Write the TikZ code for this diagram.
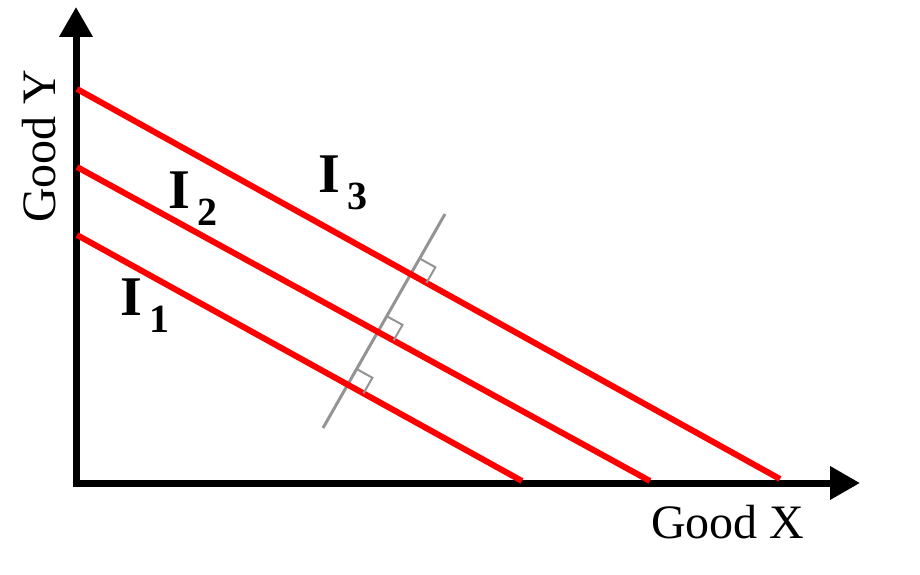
\documentclass[tikz,border=0pt]{standalone}
\usepackage{fontspec}
\setmainfont{Liberation Serif}
\usetikzlibrary{arrows.meta,intersections,calc}
\tikzset{axis/.style={black,line width=7pt,{Triangle[length=30pt,width=32pt]}-{Triangle[length=30pt,width=32pt]}},
  indiff/.style={red,line width=6pt},
  normal/.style={black!42,line width=3pt},
  rightmark/.style={black!42,line width=2pt},
  every node/.style={inner sep=0pt}}
\newcommand{\ilabel}[1]{{\fontsize{56}{60}\selectfont\bfseries I}\hspace{8pt}\raisebox{-17pt}{\fontsize{40}{44}\selectfont\bfseries #1}}

\begin{document}
\begin{tikzpicture}[x=1pt,y=-1pt]
   \useasboundingbox (0,0) rectangle (920,575);
   % axes
   \draw[axis] (76,7) -- (76,483) -- (860,483);
   \node[anchor=base west,rotate=90,font=\fontsize{48}{52}\selectfont] (ylab) at (55,223) {Good Y};
   \node[anchor=base west,font=\fontsize{48}{52}\selectfont] (xlab) at (651,538) {Good X};
   % normal line
   \coordinate (gbot) at (323,428);
   \coordinate (gtop) at (445,214);
   \draw[normal,name path=gline] (gbot) -- (gtop);
   % indifference curves
   \foreach \k/\ys/\xe/\ye in {1/235/522/481, 2/167/650/481, 3/89/780/479} {
    \coordinate (s\k) at (77,\ys);
    \coordinate (e\k) at (\xe,\ye);
    \draw[indiff,name path=i\k] (s\k) -- (e\k);
    \path[name intersections={of=gline and i\k, by=x\k}];
    \coordinate (a\k) at ($(x\k)!18pt!(gtop)$);
    \coordinate (b\k) at ($(x\k)!18pt!(e\k)$);
    \draw[rightmark] (a\k) -- ($(a\k)+(b\k)-(x\k)$) -- (b\k);
   }
   % labels
   \node[anchor=base west] (l1) at (120,315) {\ilabel{1}};
   \node[anchor=base west] (l2) at (168,208) {\ilabel{2}};
   \node[anchor=base west] (l3) at (318,192) {\ilabel{3}};
  \end{tikzpicture}
\end{document}
